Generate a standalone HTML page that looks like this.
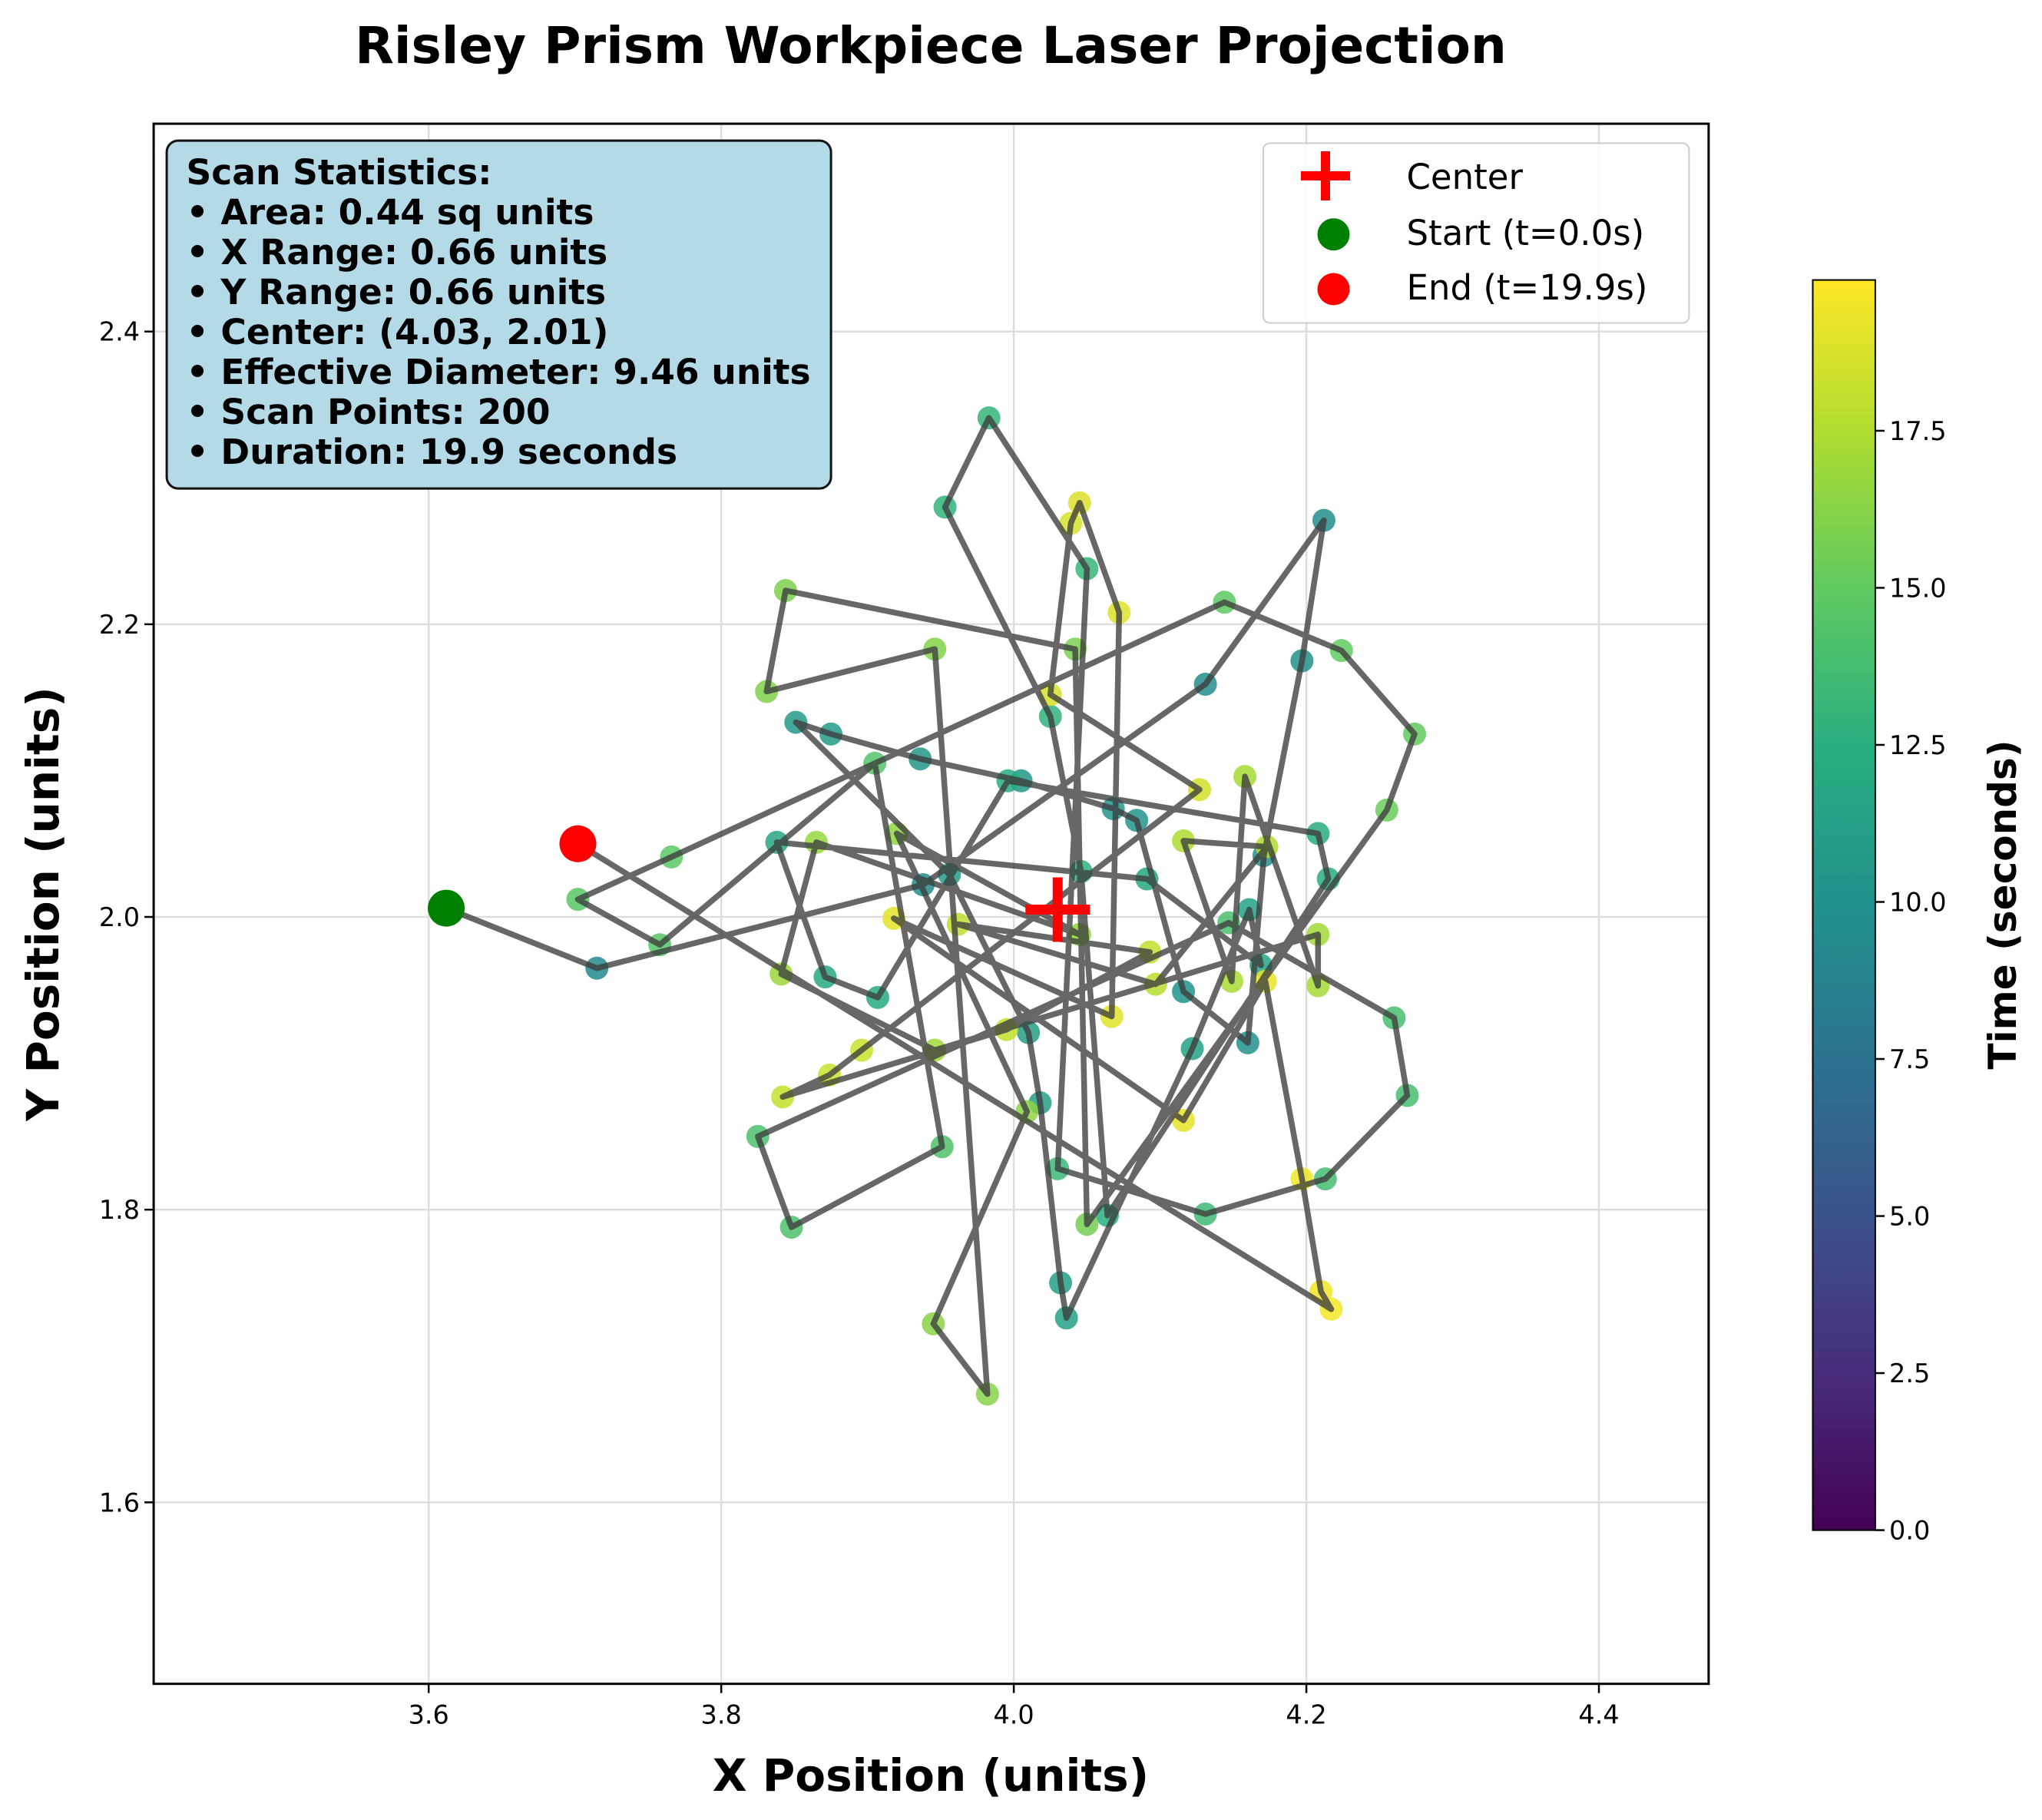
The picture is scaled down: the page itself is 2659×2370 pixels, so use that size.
<!DOCTYPE html>
<html><head><meta charset="utf-8"><style>
html,body{margin:0;padding:0;background:#fff}
svg{display:block}
text{font-family:"DejaVu Sans","Liberation Sans",sans-serif}
</style></head><body>
<svg id="chart" width="2659" height="2370" xmlns="http://www.w3.org/2000/svg">
<defs>
<linearGradient id="vir" x1="0" y1="1" x2="0" y2="0">
<stop offset="0" stop-color="#440154"/><stop offset="0.125" stop-color="#472d7b"/><stop offset="0.25" stop-color="#3b528b"/><stop offset="0.375" stop-color="#2c728e"/><stop offset="0.5" stop-color="#21918c"/><stop offset="0.625" stop-color="#28ae80"/><stop offset="0.75" stop-color="#5ec962"/><stop offset="0.875" stop-color="#addc30"/><stop offset="1" stop-color="#fde725"/>
</linearGradient>
</defs>
<text x="1212" y="82" text-anchor="middle" font-size="66" font-weight="bold">Risley Prism Workpiece Laser Projection</text>
<g id="grid"></g>
<g id="marks"></g>
<rect x="200.1" y="161.1" width="2024.8" height="2031.6" fill="none" stroke="#000" stroke-width="3"/>
<g id="axes"></g>
<text x="1212" y="2332" text-anchor="middle" font-size="58" font-weight="bold">X Position (units)</text>
<text transform="translate(76,1177) rotate(-90)" text-anchor="middle" font-size="58" font-weight="bold">Y Position (units)</text>
<g>
<rect x="217.1" y="183.1" width="865" height="453" rx="15" fill="#b4dae8" stroke="#111" stroke-width="3"/>
<g font-size="45.5" font-weight="bold">
<text x="242.5" y="240">Scan Statistics:</text>
<text x="242.5" y="292">• Area: 0.44 sq units</text>
<text x="242.5" y="344">• X Range: 0.66 units</text>
<text x="242.5" y="396">• Y Range: 0.66 units</text>
<text x="242.5" y="448">• Center: (4.03, 2.01)</text>
<text x="242.5" y="500">• Effective Diameter: 9.46 units</text>
<text x="242.5" y="552">• Scan Points: 200</text>
<text x="242.5" y="604">• Duration: 19.9 seconds</text>
</g></g>
<g>
<rect x="1644.9" y="186.5" width="554.5" height="234" rx="8.5" fill="#fff" fill-opacity="0.85" stroke="#ccc" stroke-width="2"/>
<g><path d="M1694,229h64M1726,197v64" stroke="#f00" stroke-width="12"/><text x="1831.5" y="246" font-size="45">Center</text></g>
<g><circle cx="1736.5" cy="305.2" r="21" fill="#008000"/><text x="1831.5" y="319" font-size="45">Start (t=0.0s)</text></g>
<g><circle cx="1736.5" cy="376.5" r="21" fill="#f00"/><text x="1831.5" y="390" font-size="45">End (t=19.9s)</text></g>
</g>
<g>
<rect x="2360.5" y="364.6" width="81.4" height="1628" fill="url(#vir)" stroke="#000" stroke-width="2"/>
<g id="cbticks"></g>
<text transform="translate(2625,1178) rotate(-90)" text-anchor="middle" font-size="50" font-weight="bold">Time (seconds)</text>
</g>
</svg>
<script>
const xTicks=[3.6,3.8,4.0,4.2,4.4];
const yTicks=[1.6,1.8,2.0,2.2,2.4];
const cbTicks=[0,2.5,5,7.5,10,12.5,15,17.5];
const xs=[3.612,3.715,3.938,4.131,4.212,4.197,4.171,4.160,4.116,4.084,4.068,4.005,3.936,3.875,3.851,3.956,4.010,4.018,4.032,4.036,4.122,4.161,4.169,4.091,3.838,3.871,3.907,3.996,4.208,4.215,4.064,4.046,4.025,3.953,3.983,4.050,4.030,4.131,4.213,4.269,4.260,4.147,3.825,3.848,3.951,3.905,3.758,3.702,3.766,4.144,4.224,4.274,4.255,4.050,4.042,3.844,3.831,3.946,3.982,3.945,4.009,3.920,4.045,3.865,3.841,3.946,4.208,4.208,4.158,4.149,4.116,4.173,4.097,3.962,4.093,3.995,3.842,3.874,3.896,4.127,4.025,4.039,4.045,4.072,4.067,3.918,4.116,4.172,4.197,4.210,4.217,3.702];
const ys=[2.006,1.965,2.022,2.159,2.271,2.175,2.042,1.914,1.949,2.066,2.074,2.093,2.108,2.125,2.133,2.029,1.921,1.873,1.750,1.726,1.910,2.005,1.967,2.026,2.051,1.959,1.945,2.093,2.057,2.026,1.796,2.031,2.137,2.280,2.341,2.238,1.828,1.797,1.821,1.878,1.931,1.996,1.850,1.788,1.843,2.105,1.981,2.012,2.041,2.215,2.182,2.125,2.073,1.790,2.183,2.223,2.154,2.183,1.674,1.722,1.867,2.057,1.988,2.051,1.961,1.909,1.988,1.953,2.096,1.956,2.052,2.048,1.954,1.995,1.976,1.923,1.877,1.892,1.909,2.087,2.152,2.269,2.283,2.208,1.932,1.999,1.861,1.956,1.821,1.744,1.732,2.050];
const ts=[0.0,9.4,9.5,9.6,9.7,9.8,9.9,10.0,10.1,10.2,10.3,10.4,10.5,10.6,10.7,10.8,10.9,11.0,11.1,11.2,11.3,11.4,11.5,11.6,11.7,11.8,12.0,12.2,12.3,12.4,12.5,12.7,12.8,12.9,13.0,13.1,13.3,13.5,13.7,13.8,13.9,14.0,14.1,14.2,14.3,14.4,14.5,14.6,14.8,14.9,15.0,15.1,15.3,15.6,15.8,15.9,16.0,16.1,16.2,16.3,16.4,16.5,16.6,16.7,16.8,16.9,17.0,17.1,17.2,17.3,17.4,17.5,17.7,17.9,18.0,18.1,18.2,18.3,18.4,18.5,18.6,18.7,18.8,18.9,19.0,19.1,19.2,19.3,19.4,19.5,19.6,19.9];
const centerPt=[4.03,2.005];
const tMax=19.9;
const NS="http://www.w3.org/2000/svg";
const K=1.6958;
const X0=118*K,X1=1312*K,Y0=95*K,Y1=1293*K;
const xMin=3.412,xMax=4.475,yMin=1.476,yMax=2.542;
function sx(v){return X0+(v-xMin)/(xMax-xMin)*(X1-X0);}
function sy(v){return Y1-(v-yMin)/(yMax-yMin)*(Y1-Y0);}
function cy(v){return (1175-v/tMax*960)*K;}
const vir=[[68,1,84],[72,45,123],[59,82,139],[44,114,142],[33,145,140],[40,174,128],[94,201,98],[173,220,48],[253,231,37]];
function vcol(t){let f=Math.max(0,Math.min(1,t/tMax))*8;let i=Math.min(7,Math.floor(f));let r=f-i;const a=vir[i],b=vir[i+1];return 'rgb('+a.map((c,k)=>Math.round(c+(b[k]-c)*r)).join(',')+')';}
function mk(tag,attrs,parent){const e=document.createElementNS(NS,tag);for(const k in attrs)e.setAttribute(k,attrs[k]);parent.appendChild(e);return e;}
const grid=document.getElementById('grid'),axes=document.getElementById('axes'),marks=document.getElementById('marks');
xTicks.forEach(v=>{
  const g=mk('line',{x1:sx(v),x2:sx(v),y1:Y0,y2:Y1,stroke:'#ddd','stroke-width':2.5},grid);
  
  
  mk('line',{x1:sx(v),x2:sx(v),y1:Y1,y2:Y1+12,stroke:'#000','stroke-width':2.5},axes);
  const t=mk('text',{x:sx(v),y:Y1+52,'text-anchor':'middle','font-size':33.5},axes);t.textContent=v.toFixed(1);
  
  
});
yTicks.forEach(v=>{
  const g=mk('line',{x1:X0,x2:X1,y1:sy(v),y2:sy(v),stroke:'#ddd','stroke-width':2.5},grid);
  
  
  mk('line',{x1:X0-12,x2:X0,y1:sy(v),y2:sy(v),stroke:'#000','stroke-width':2.5},axes);
  const t=mk('text',{x:X0-18,y:sy(v)+12,'text-anchor':'end','font-size':33.5},axes);t.textContent=v.toFixed(1);
  
  
});
const cbt=document.getElementById('cbticks');
cbTicks.forEach(v=>{
  mk('line',{x1:2442,x2:2454,y1:cy(v),y2:cy(v),stroke:'#000','stroke-width':2.5},cbt);
  const t=mk('text',{x:2460,y:cy(v)+12,'font-size':33.5},cbt);t.textContent=v.toFixed(1);
  
  
});
for(let i=1;i<xs.length-1;i++){
  const c=mk('circle',{cx:sx(xs[i]),cy:sy(ys[i]),r:15,fill:vcol(ts[i]),'fill-opacity':0.85},marks);
  
  
}
const pts=xs.map((x,i)=>sx(x).toFixed(1)+','+sy(ys[i]).toFixed(1)).join(' ');
const pl=mk('polyline',{points:pts,fill:'none',stroke:'#3c3c3c','stroke-opacity':0.78,'stroke-width':7.5,'stroke-linejoin':'round'},marks);


const s=mk('circle',{cx:sx(xs[0]),cy:sy(ys[0]),r:24,fill:'#008000'},marks);


const n=xs.length-1;
const e=mk('circle',{cx:sx(xs[n]),cy:sy(ys[n]),r:24,fill:'#ff0000'},marks);


const cx=sx(centerPt[0]),cyy=sy(centerPt[1]);
const cm=mk('path',{d:'M'+(cx-42)+','+cyy+'h84M'+cx+','+(cyy-42)+'v84',stroke:'#f00','stroke-width':13},marks);


</script>
</body></html>
